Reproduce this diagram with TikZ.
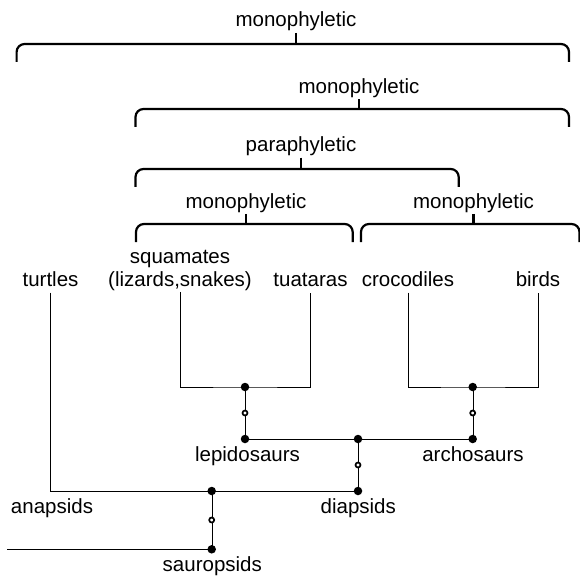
\documentclass[tikz,border=0pt]{standalone}
\usepackage{fontspec}
\setmainfont{Liberation Sans}
\usepackage{tikz}
\usetikzlibrary{calc, positioning}

\pgfdeclarelayer{edges}
\pgfsetlayers{edges,main}

\begin{document}
\begin{tikzpicture}[
  x=1pt, y=-1pt,
  line width=2.2pt,
  taxon/.style={
    anchor=base, inner sep=1pt, outer sep=0pt,
    font=\fontsize{20.5}{23.4}\selectfont
  },
  flat/.style={taxon, text depth=5pt},
  dot/.style={circle, fill=black, inner sep=0pt, minimum size=8.5pt},
  ring/.style={circle, draw, fill=white, line width=1.7pt, inner sep=0pt, minimum size=5pt},
  brace/.style={rounded corners=8pt}
]
\useasboundingbox (0,0) rectangle (580,577);

% Nodes
\node[flat] (Mono_All) at (296,27) {monophyletic};
\node[flat] (Mono_Diap) at (359,93.3) {monophyletic};
\node[flat] (Para_Rept) at (301,151.7) {paraphyletic};
\node[flat] (Mono_Lep) at (246,208) {monophyletic};
\node[flat] (Mono_Arch) at (473.5,208) {monophyletic};

\node[flat] (Turtles) at (50.5,286.7) {turtles};
\node[taxon, align=center] (Squamates) at (180,286.7) {squamates\\(lizards,snakes)};
\node[flat] (Tuataras) at (310.5,286.7) {tuataras};
\node[flat] (Crocodiles) at (408,286.7) {crocodiles};
\node[flat] (Birds) at (538,286.7) {birds};

\node[dot] (Lep_Join) at (245,387) {};
\node[ring] (Lep_Ring) at (245,413) {};
\node[dot] (Lep_Dot) at (245,439) {};
\node[dot] (Arch_Join) at (472.7,387) {};
\node[ring] (Arch_Ring) at (472.7,413) {};
\node[dot] (Arch_Dot) at (472.7,439) {};
\node[dot] (Diap_Join) at (358,439) {};
\node[ring] (Diap_Ring) at (358,465) {};
\node[dot] (Diap_Dot) at (358,491) {};
\node[dot] (Saur_Join) at (211.7,491) {};
\node[ring] (Saur_Ring) at (211.7,520) {};
\node[dot] (Saur_Dot) at (211.7,549.3) {};
\coordinate (Root) at (7.4,549.3);

\node[flat] (Lepidosaurs) at (247.5,461.7) {lepidosaurs};
\node[flat] (Archosaurs) at (473,461.7) {archosaurs};
\node[flat] (Anapsids) at (52,513.3) {anapsids};
\node[flat] (Diapsids) at (358.3,513.3) {diapsids};
\node[flat] (Sauropsids) at (212.3,571.7) {sauropsids};

% Braces
\draw[brace] (16.6,62) |- (569,44) -- (569,62);
\draw[brace] (135.5,127) |- (569,109) -- (569,127);
\draw[brace] (135.5,187) |- (458.7,169) -- (458.7,187);
\draw[brace] (136,242) |- (352.7,224) -- (352.7,242);
\draw[brace] (361,242) |- (579.5,224) -- (579.5,242);

\draw (Mono_All.south) -- (Mono_All.south |- 0,44);
\draw (Mono_Diap.south) -- (Mono_Diap.south |- 0,109);
\draw (Para_Rept.south) -- (Para_Rept.south |- 0,169);
\draw (Mono_Lep.south) -- (Mono_Lep.south |- 0,224);
\draw (Mono_Arch.south) -- (Mono_Arch.south |- 0,224);

% Edges
\begin{pgfonlayer}{edges}
\draw (Squamates.south) |- (Lep_Join.center) -| (Tuataras.south);
\draw (Crocodiles.south) |- (Arch_Join.center) -| (Birds.south);
\draw (Lep_Join.center) -- (Lep_Dot.center);
\draw (Arch_Join.center) -- (Arch_Dot.center);
\draw (Lep_Dot.center) -- (Arch_Dot.center);
\draw (Diap_Join.center) -- (Diap_Dot.center);
\draw (Turtles.south) |- (Diap_Dot.center);
\draw (Saur_Join.center) -- (Saur_Dot.center);
\draw (Root) -- (Saur_Dot.center);
\end{pgfonlayer}

\end{tikzpicture}
\end{document}
